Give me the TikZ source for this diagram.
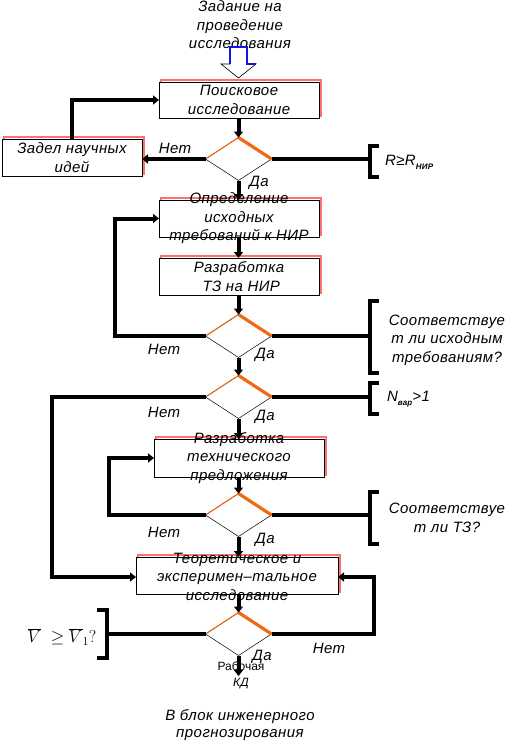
\documentclass[tikz,border=0pt]{standalone}
\usepackage{fontspec}
\setmainfont{Liberation Sans}
\newfontfamily\spaced[LetterSpace=3]{Liberation Sans}
\usetikzlibrary{arrows.meta,shapes.geometric,shadows}
\definecolor{shred}{RGB}{250,115,115}
\definecolor{orng}{RGB}{240,105,20}
\definecolor{arrblue}{RGB}{20,20,230}
\begin{document}
\begin{tikzpicture}[x=1pt,y=-1pt,
  every node/.style={inner sep=0pt,outer sep=0pt},
  txt/.style={font=\spaced\fontsize{15}{18.5}\selectfont\itshape, align=center},
  box/.style={draw=black, line width=0.8pt, fill=white, minimum width=#1, minimum height=37pt,
    general shadow={draw=shred, fill=none, line width=2pt, shadow xshift=2pt, shadow yshift=2.5pt}},
  dia/.style={diamond, draw=black, line width=0.5pt, fill=white, minimum width=66pt, minimum height=43pt, inner sep=0pt},
  heavy/.style={line width=4pt},
  arr/.style={heavy, -{Triangle[length=6pt,width=9pt]}},
  brk/.style={line width=4pt, line join=miter},
  edgeA/.style={orng, line width=1pt},
  edgeB/.style={orng, line width=3.2pt}
]
\useasboundingbox (0,0) rectangle (530,744);

% top input
\node[txt] (task) at (240,25) {Задание на\\проведение\\исследования};
\filldraw[fill=white, draw=black, line width=0.6pt] (230,47) -- (247,47) -- (247,64) -- (256,64) -- (238.5,78) -- (221,64) -- (230,64) -- cycle;
\draw[arrblue, line width=1.3pt] (230,64) -- (230,47) -- (247,47) -- (247,64) -- (256,64);

% boxes
\node[box=160pt, minimum height=36pt] (b1) at (239,100) {};
\node[txt] (t1) at (b1) {Поисковое\\исследование};
\node[box=140pt] (bz) at (72,157.5) {};
\node[txt] (tz) at (bz) {Задел научных\\идей};
\node[box=160pt] (b2) at (239,218.5) {};
\node[txt] (t2) at (b2) {Определение\\исходных\\требований к НИР};
\node[box=160pt] (b3) at (239,276.5) {};
\node[txt] (t3) at (b3) {Разработка\\\ ТЗ на НИР};
\node[box=170pt, minimum height=38pt] (b4) at (239,458) {};
\node[txt] (t4) at (b4) {Разработка\\технического\\предложения};
\node[box=202pt] (b5) at (237,575.5) {};
\node[txt] (t5) at (237,576.5) {Теоретическое и\\эксперимен–тальное\\исследование};

% diamonds
\foreach \n/\y in {d1/159, d2/336, d3/397, d4/515, d5/634}{
  \node[dia] (\n) at (238.5,\y) {};
  \draw[edgeA] (\n.west) -- (\n.north);
  \draw[edgeB] (\n.north) -- (\n.east);
}

% vertical flow
\draw[arr] (b1.south -| d1) -- (d1.north);
\draw[arr] (d1.south) -- (b2.north -| d1);
\draw[arr] (b2.south -| d1) -- (b3.north -| d1);
\draw[arr] (b3.south -| d2) -- (d2.north);
\draw[arr] (d2.south) -- (d3.north);
\draw[arr] (d3.south) -- (b4.north -| d3);
\draw[arr] (b4.south -| d4) -- (d4.north);
\draw[arr] (d4.south) -- (b5.north -| d4);
\draw[arr] (b5.south -| d5) -- (d5.north);
\coordinate (out) at (238.5,676);
\draw[arr] (d5.south) -- (out);

% loops
\draw[arr] (d1.west) -- (d1.west -| bz.east);
\draw[arr] (bz.north) |- (b1.west);
\draw[arr] (d2.west) -- ++(-91,0) |- (b2.west);
\draw[arr] (d3.west) -- ++(-153.5,0) |- ([yshift=-1.5pt]b5.west);
\draw[arr] (d4.west) -- ++(-96.5,0) |- (b4.west);
\draw[arr] (d5.east) -- ++(102,0) |- ([yshift=-1.5pt]b5.east);

% right brackets
\coordinate (k1) at (370,159);
\coordinate (k2) at (370,336);
\coordinate (k3) at (370,397);
\coordinate (k4) at (370,515);
\coordinate (k5) at (107,634);
\draw[heavy] (d1.east) -- (k1);
\draw[heavy] (d2.east) -- (k2);
\draw[heavy] (d3.east) -- (k3);
\draw[heavy] (d4.east) -- (k4);
\draw[heavy] (d5.west) -- (k5);
\draw[brk] (379,146) -- (370,146) -- (370,177) -- (379,177);
\draw[brk] (379,301) -- (370,301) -- (370,373) -- (379,373);
\draw[brk] (379,383) -- (370,383) -- (370,414) -- (379,414);
\draw[brk] (379,492) -- (370,492) -- (370,544) -- (379,544);
\draw[brk] (97,610) -- (107,610) -- (107,658) -- (97,658);

% bracket texts
\node[txt, anchor=west] (c1) at (385,162) {R≥R\raisebox{-4pt}{\fontsize{8}{8}\selectfont\bfseries НИР}};
\node[txt] (c2) at (447,340) {Соответствуе\\т ли исходным\\требованиям?};
\node[txt, anchor=west] (c3) at (387,399) {N\raisebox{-4pt}{\fontsize{8}{8}\selectfont\bfseries вар}>1};
\node[txt] (c4) at (447,518) {Соответствуе\\т ли ТЗ?};
\node[font=\fontsize{17}{20}\selectfont] (c5) at (62,637) {$\overline{V}\;\geq\overline{V}_{1}?$};

% yes / no labels
\node[txt] (n1) at (175,148) {Нет};
\node[txt] (y1) at (259,183) {Да};
\node[txt] (n2) at (164,349) {Нет};
\node[txt] (y2) at (265,355) {Да};
\node[txt] (n3) at (164,412) {Нет};
\node[txt] (y3) at (265,417) {Да};
\node[txt] (n4) at (164,532) {Нет};
\node[txt] (y4) at (265,540) {Да};
\node[txt] (n5) at (329,648) {Нет};
\node[txt] (y5) at (262,657) {Да};

% outputs
\node[font=\fontsize{12}{16}\selectfont, align=center] (kd) at (241,675) {Рабочая\\\textit{КД}};
\node[txt, font=\spaced\fontsize{15}{17}\selectfont\itshape] (blk) at (240,725) {В блок инженерного\\прогнозирования};
\end{tikzpicture}
\end{document}
